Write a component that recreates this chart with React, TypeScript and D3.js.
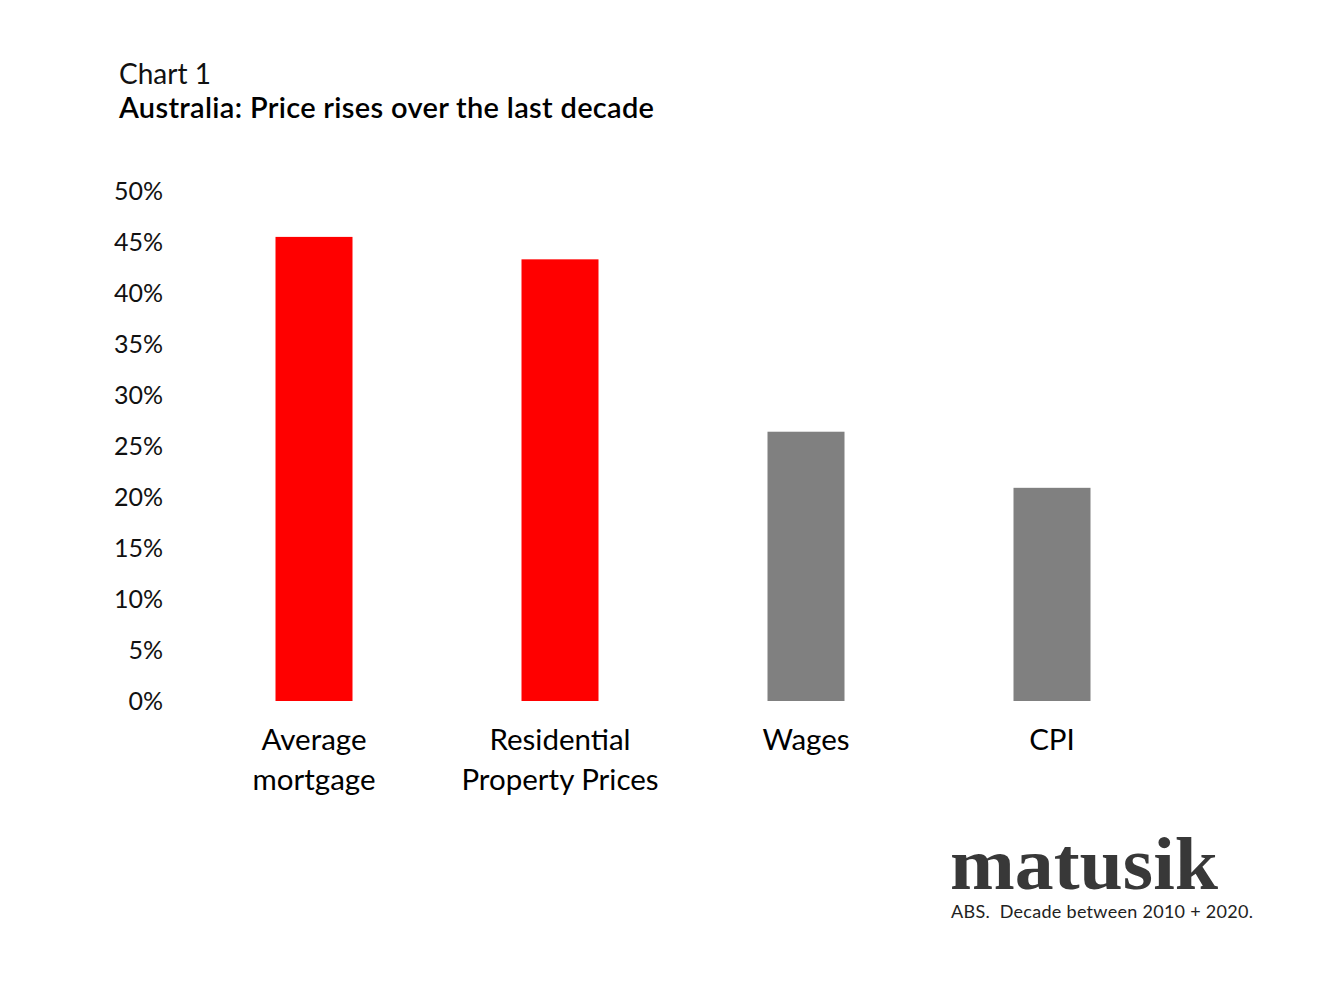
import React from "react";
import * as d3 from "d3";

const categories: string[][] = [
  ["Average", "mortgage"],
  ["Residential", "Property Prices"],
  ["Wages"],
  ["CPI"],
];
const values: number[] = [45.5, 43.3, 26.4, 20.9];
const barColors: string[] = ["#ff0000", "#ff0000", "#808080", "#808080"];
const ticks: number[] = [0, 5, 10, 15, 20, 25, 30, 35, 40, 45, 50];

const width = 1320;
const height = 990;
const font = "Lato, 'Noto Sans', sans-serif";

export default function App() {
  const keys = categories.map((c) => c.join(" "));

  const x = d3
    .scaleBand<string>()
    .domain(keys)
    .range([191, 1175])
    .paddingInner(0.687)
    .paddingOuter(0.3435);

  const y = d3.scaleLinear().domain([0, 50]).range([701, 191]);

  return (
    <svg
      width={width}
      height={height}
      style={{ position: "absolute", left: 0, top: 0, background: "#fff" }}
    >
      {/* titles */}
      <text x={119} y={84} fontFamily={font} fontSize={28} fill="#111" textLength={92} lengthAdjust="spacing">
        Chart 1
      </text>
      <text
        x={119}
        y={118}
        fontFamily={font}
        fontSize={29}
        fontWeight={600}
        fill="#000"
        textLength={535}
        lengthAdjust="spacing"
      >
        Australia: Price rises over the last decade
      </text>

      {/* y tick labels */}
      {ticks.map((t) => (
        <text
          key={t}
          x={163}
          y={y(t)}
          dy="0.35em"
          textAnchor="end"
          fontFamily={font}
          fontSize={25}
          fill="#111"
        >
          {t}%
        </text>
      ))}

      {/* bars */}
      {keys.map((k, i) => (
        <rect
          key={k}
          x={x(k)}
          y={y(values[i])}
          width={x.bandwidth()}
          height={y(0) - y(values[i])}
          fill={barColors[i]}
        />
      ))}

      {/* category labels */}
      {categories.map((lines, i) => (
        <text
          key={keys[i]}
          x={(x(keys[i]) ?? 0) + x.bandwidth() / 2}
          y={750}
          textAnchor="middle"
          fontFamily={font}
          fontSize={29.5}
          fill="#000"
        >
          {lines.map((l, j) => (
            <tspan key={l} x={(x(keys[i]) ?? 0) + x.bandwidth() / 2} dy={j === 0 ? 0 : 40}>
              {l}
            </tspan>
          ))}
        </text>
      ))}

      {/* logo and source */}
      <text
        x={950}
        y={889}
        fontFamily="'Liberation Serif', 'DejaVu Serif', serif"
        fontWeight="bold"
        fontSize={74}
        fill="#383838"
        textLength={268}
        lengthAdjust="spacingAndGlyphs"
      >
        matusik
      </text>
      <text
        x={951}
        y={918}
        fontFamily={font}
        fontSize={18}
        fill="#222"
        style={{ whiteSpace: "pre" }}
        textLength={302}
        lengthAdjust="spacing"
      >
        {"ABS.  Decade between 2010 + 2020."}
      </text>
    </svg>
  );
}
